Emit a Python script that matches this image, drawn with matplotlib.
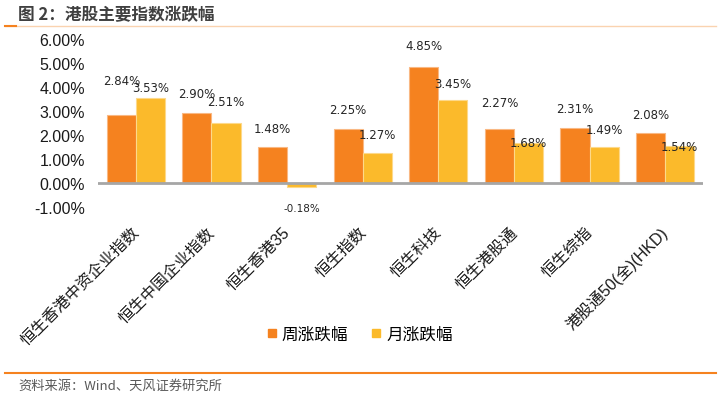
import numpy as np
import matplotlib
matplotlib.use('Agg')
import matplotlib.pyplot as plt
import matplotlib.transforms as mtransforms
from matplotlib.lines import Line2D

plt.rcParams['font.family'] = ['Liberation Sans', 'Noto Sans CJK SC', 'DejaVu Sans']

# data
categories = ['恒生香港中资企业指数', '恒生中国企业指数', '恒生香港35', '恒生指数',
              '恒生科技', '恒生港股通', '恒生综指', '港股通50(全)(HKD)']
week_chg = [2.84, 2.90, 1.48, 2.25, 4.85, 2.27, 2.31, 2.08]
month_chg = [3.53, 2.51, -0.18, 1.27, 3.45, 1.68, 1.49, 1.54]
series_names = ['周涨跌幅', '月涨跌幅']
yticks = [-1, 0, 1, 2, 3, 4, 5, 6]

# label offsets (pixels above bar end)
week_off = [34, 20, 19, 19, 21, 26, 19, 19]
month_off = [11, 21, -21, 18, 17, 0, 18, 0]

c_week = '#F5821F'
c_month = '#FBBA2B'

fig = plt.figure(figsize=(7.21, 4.02), dpi=100)
ax = fig.add_axes([98/721, 1-208/402, (703-98)/721, (208-40)/402])

x = np.arange(len(categories))
w = 0.385
b1 = ax.bar(x - w/2, week_chg, w, color=c_week, edgecolor='#F9B883', linewidth=0.8, zorder=2)
b2 = ax.bar(x + w/2, month_chg, w, color=c_month, edgecolor='#FDD98A', linewidth=0.8, zorder=2)

for i in range(len(categories)):
    ax.annotate(f'{week_chg[i]:.2f}%', (x[i] - w/2, week_chg[i]), xytext=(0, week_off[i]),
                textcoords='offset pixels', ha='center', va='center',
                fontsize=8.5, family='DejaVu Sans', color='#262626', zorder=3)
    v = month_chg[i]
    fs = 8.5 if v >= 0 else 7.5
    ax.annotate(f'{v:.2f}%', (x[i] + w/2, v), xytext=(0, month_off[i]),
                textcoords='offset pixels', ha='center', va='center',
                fontsize=fs, family='DejaVu Sans', color='#262626', zorder=3)

ax.axhline(0, color='#A6A6A6', linewidth=2, zorder=3)
ax.set_xlim(-0.5, len(categories) - 0.5)
ax.set_ylim(-1, 6)
ax.set_yticks(yticks)
ax.set_yticklabels([f'{t:.2f}%' for t in yticks], fontsize=11.5, color='#1a1a1a')
ax.tick_params(axis='y', length=0, pad=9.5)
ax.set_xticks(x)
ax.set_xticklabels(categories, rotation=45, ha='right', va='top', fontsize=11.5, color='#1a1a1a')
ax.tick_params(axis='x', length=0, pad=12)
shift = mtransforms.ScaledTranslation(6/100, 0, fig.dpi_scale_trans)
for lab in ax.get_xticklabels():
    lab.set_transform(lab.get_transform() + shift)
for s in ax.spines.values():
    s.set_visible(False)

# legend
handles = [Line2D([], [], marker='s', linestyle='', color=c_week, markersize=6),
           Line2D([], [], marker='s', linestyle='', color=c_month, markersize=6)]
fig.legend(handles, series_names, loc='center', bbox_to_anchor=(358/721, 1-335/402),
           ncol=2, frameon=False, handletextpad=0.1, columnspacing=1.2,
           handlelength=1.0, prop={'family': 'Noto Sans CJK SC', 'size': 12})

# title and source
fig.text(18/721, 1-15/402, '图 2：港股主要指数涨跌幅', fontsize=12, fontweight='bold',
         color='#404040', va='center', ha='left', family='Noto Sans CJK SC')
fig.add_artist(Line2D([5/721, 716/721], [1-27/402, 1-27/402], color='#FAD3B0', linewidth=1))
fig.add_artist(Line2D([5/721, 16/721], [1-27/402, 1-27/402], color='#F5821F', linewidth=1.5))
fig.add_artist(Line2D([5/721, 716/721], [1-374/402, 1-374/402], color='#F5821F', linewidth=1.5))
fig.text(18/721, 1-386/402, '资料来源：Wind、天风证券研究所', fontsize=9.5,
         color='#595959', va='center', ha='left', family='Noto Sans CJK SC')

fig.savefig('out.png', dpi=100)
